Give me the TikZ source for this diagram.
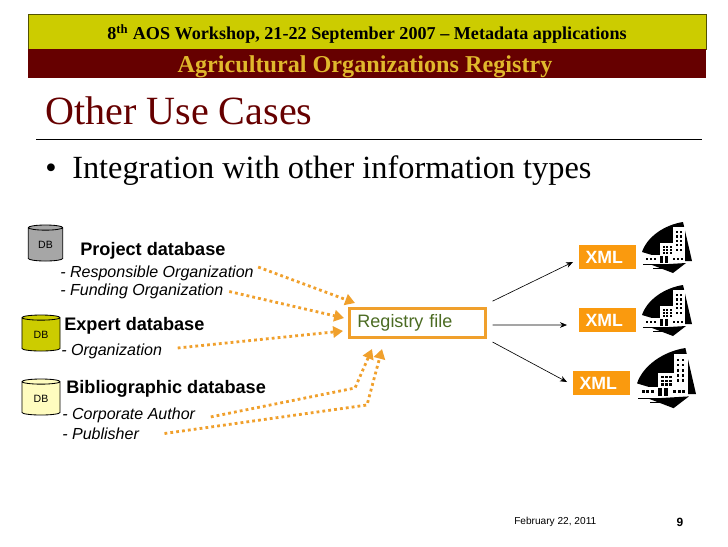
\documentclass[tikz,border=0pt]{standalone}
\usepackage{fontspec}
\setmainfont{Liberation Serif}
\setsansfont{Liberation Sans}
\usetikzlibrary{shapes.geometric,arrows.meta}
\definecolor{headyellow}{HTML}{CCCC00}
\definecolor{headred}{HTML}{660000}
\definecolor{headgold}{HTML}{E0B82C}
\definecolor{fileorange}{HTML}{F0A02C}
\definecolor{xmlorange}{HTML}{FA9A0E}
\definecolor{filegreen}{HTML}{4B6B22}
\tikzset{
  dbcyl/.style={draw=black,cylinder,shape border rotate=90,aspect=0.35,line width=0.6pt,
    minimum width=#1,minimum height=0.9cm,inner sep=0pt,
    font=\sffamily\fontsize{7.5}{8}\selectfont},
  dbcyl/.default=0.95cm,
  dbname/.style={anchor=west,inner sep=0pt,font=\sffamily\bfseries\fontsize{12.9}{14}\selectfont},
  dbfield/.style={anchor=west,inner sep=0pt,font=\sffamily\itshape\fontsize{11.4}{13}\selectfont},
  regflow/.style={draw=fileorange,line width=2pt,dash pattern=on 2pt off 2.2pt,
    -{Triangle[length=7pt,width=8pt]}},
  xmlflow/.style={draw=black,line width=0.45pt,-{Stealth[length=5pt,width=4pt]}},
  xmlbox/.style={fill=xmlorange,text=white,inner sep=0pt,minimum width=1.42cm,minimum height=0.6cm,
    font=\sffamily\bfseries\fontsize{12.6}{14}\selectfont},
  buildingicon/.pic={
    % sail
    \fill[black] (0,30) .. controls (5,15) and (22,3) .. (41,0) -- (50,39) -- (30,39) -- cycle;
    \fill[black] (10,43) -- (44,41) -- (31,51) -- cycle;
    % block
    \fill[white] (31,5) rectangle (43,36);
    \fill[white] (18,21) rectangle (43,36);
    \fill[white] (2,33) rectangle (43,41);
    \fill[black] (1,42) rectangle (29,43);
    \fill[black] (11,46) rectangle (30,47);
    \foreach \i in {0,1,2} \foreach \j in {0,1,2}
      \fill[black] ({20.5+\i*3.5},{23.5+\j*3.2}) rectangle ++(2,2);
    \foreach \i in {0,1} \foreach \j in {0,1,2,3,4}
      \fill[black] ({34+\i*4},{9+\j*4.4}) rectangle ++(2,2.2);
    \foreach \i in {0,1,2}
      \fill[black] ({4+\i*4},35.5) rectangle ++(2.4,2.4);
    \foreach \i in {0,1,2}
      \fill[black] ({30.5+\i*4},35.5) rectangle ++(2.4,2.4);
    \fill[black] (18,34) rectangle (21,41);
    \fill[black] (23,34) rectangle (26,41);
  }
}
\begin{document}
\begin{tikzpicture}[x=0.025cm,y=-0.025cm]
  \useasboundingbox (0,0) rectangle (728,546);
  % header
  \fill[headyellow] (28,14) rectangle (706,49);
  \draw[black!60!headyellow,line width=0.6pt] (28,14) rectangle (706,49);
  \fill[headred] (28,49) rectangle (706,78);
  \node[inner sep=0pt,font=\bfseries\fontsize{12.9}{14}\selectfont] (workshop) at (367,34)
    {8\textsuperscript{th} AOS Workshop, 21-22 September 2007 -- Metadata applications};
  \node[inner sep=0pt,text=headgold,font=\bfseries\fontsize{17.2}{19}\selectfont] (registry) at (365,67)
    {Agricultural Organizations Registry};
  % title
  \node[anchor=base west,inner sep=0pt,text=headred,font=\fontsize{28.5}{32}\selectfont] (title) at (45,124) {Other Use Cases};
  \draw[black,line width=0.5pt] (36,139) -- (702,139);
  \node[anchor=base west,inner sep=0pt,font=\fontsize{23}{26}\selectfont] (bullet) at (45,178) {•};
  \node[anchor=base west,inner sep=0pt,font=\fontsize{23}{26}\selectfont] (usecase) at (72,178) {Integration with other information types};
  % databases
  \node[dbcyl=0.86cm,fill=black!35] (projectdb) at (45.5,244.5) {DB};
  \node[dbcyl,fill=headyellow] (expertdb) at (41,334.5) {DB};
  \node[dbcyl,fill=yellow!25] (biblio) at (41,398.5) {DB};
  \node[dbname] (projectname) at (80,250.5) {Project database};
  \node[dbfield] (respfield) at (60,273.5) {- Responsible Organization};
  \node[dbfield] (fundfield) at (60,291.5) {- Funding Organization};
  \node[dbname] (expertname) at (64,325.5) {Expert database};
  \node[dbfield] (orgfield) at (61,351.5) {- Organization};
  \node[dbname] (biblioname) at (66,388.5) {Bibliographic database};
  \node[dbfield] (authorfield) at (62,415.5) {- Corporate Author};
  \node[dbfield] (pubfield) at (62,433.5) {- Publisher};
  % registry file
  \node[draw=fileorange,line width=2pt,minimum width=3.4cm,minimum height=0.74cm,
    text=filegreen,font=\sffamily\fontsize{12.8}{14}\selectfont,
    text width=3cm,align=left] (regfile) at (417.5,323) {Registry file};
  \coordinate (regtopa) at (355,303);
  \coordinate (regtopb) at (344,318);
  \coordinate (regleft) at (343,331);
  \coordinate (regbota) at (372,349);
  \coordinate (regbotb) at (382,349);
  \coordinate (benda) at (355,388);
  \coordinate (bendb) at (367,405);
  \draw[regflow] ([xshift=3pt,yshift=4.6pt]respfield.east) -- (regtopa);
  \draw[regflow] ([xshift=4pt]fundfield.east) -- (regtopb);
  \draw[regflow] ([xshift=11pt,yshift=2.5pt]orgfield.east) -- (regleft);
  \draw[regflow] ([xshift=11pt,yshift=-1pt]authorfield.east) -- (benda) -- (regbota);
  \draw[regflow] ([xshift=18pt]pubfield.east) -- (bendb) -- (regbotb);
  % xml outputs
  \node[xmlbox,text width=1.1cm,align=left] (xmla) at (607.5,257) {XML};
  \node[xmlbox,text width=1.1cm,align=left] (xmlb) at (607.5,320) {XML};
  \node[xmlbox,text width=1.1cm,align=left] (xmlc) at (601.5,383) {XML};
  \coordinate (tipa) at (573,262);
  \coordinate (tipb) at (567,325);
  \coordinate (tipc) at (567,382);
  \draw[xmlflow] ([xshift=4pt,yshift=4pt]regfile.north east) -- (tipa);
  \draw[xmlflow] ([xshift=4pt,yshift=-1.4pt]regfile.east) -- (tipb);
  \draw[xmlflow] ([xshift=4pt,yshift=-2pt]regfile.south east) -- (tipc);
  \pic at (642,222) {buildingicon};
  \pic at (642,285) {buildingicon};
  \begin{scope}[shift={(637,348)},scale=1.18]
    \pic[transform shape] {buildingicon};
  \end{scope}
  % footer
  \node[anchor=west,inner sep=0pt,font=\sffamily\fontsize{7.2}{9}\selectfont] (datefoot) at (514,522) {February 22, 2011};
  \node[inner sep=0pt,font=\sffamily\bfseries\fontsize{8.5}{10}\selectfont] (pagefoot) at (680,522) {9};
\end{tikzpicture}
\end{document}
